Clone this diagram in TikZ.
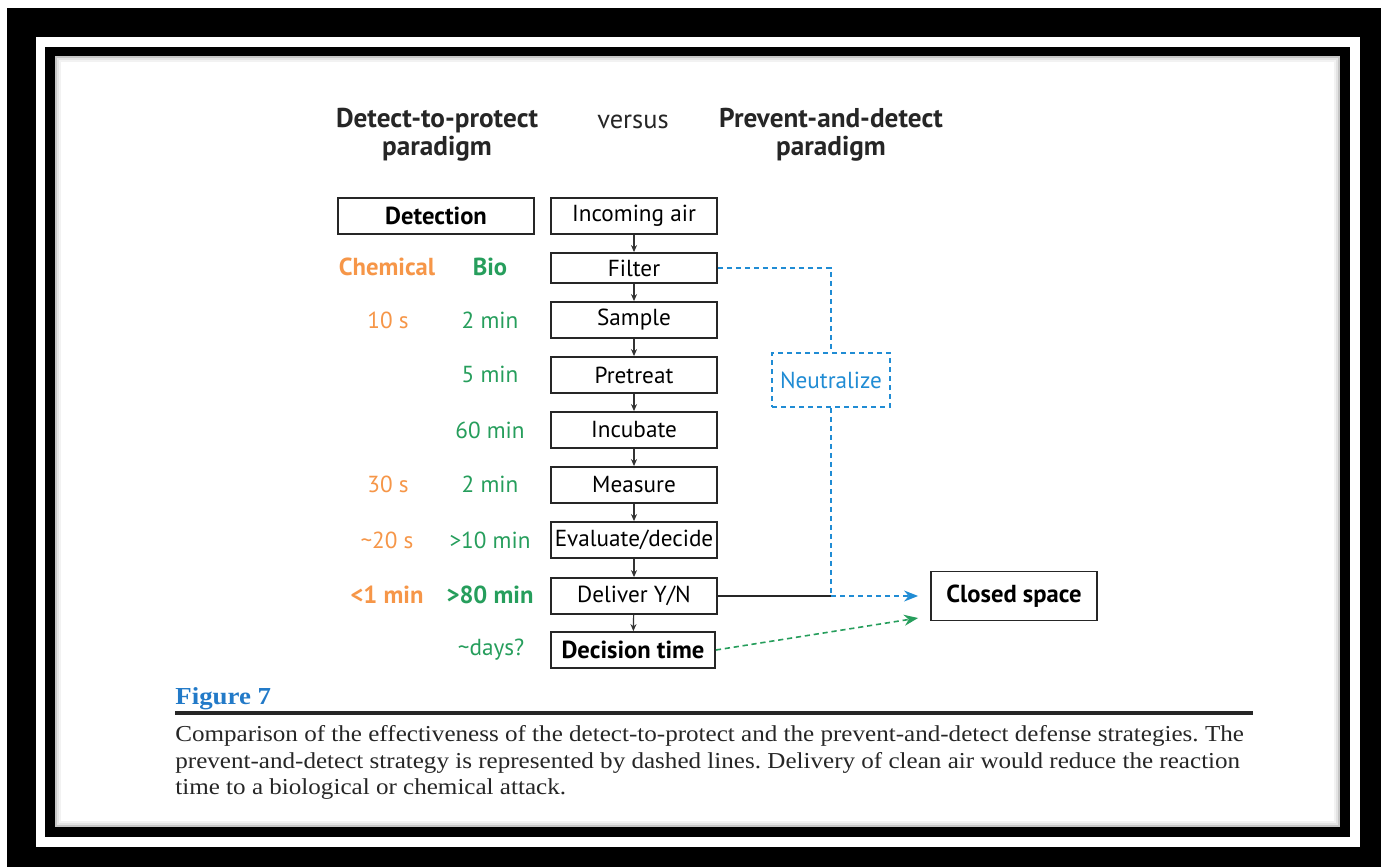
\documentclass[tikz,border=0pt]{standalone}
\usepackage{fontspec}
\setmainfont{Liberation Serif}
\newfontfamily\capfont[FakeStretch=1.1]{Liberation Serif}
\newfontfamily\diagfont{PT Sans}
\usetikzlibrary{arrows.meta, positioning, calc}

\definecolor{chemorange}{RGB}{246,150,72}
\definecolor{biogreen}{RGB}{38,158,92}
\definecolor{neublue}{RGB}{32,140,212}
\definecolor{figblue}{RGB}{34,122,200}

\begin{document}
\frenchspacing
\begin{tikzpicture}[
  x=0.5pt, y=-0.5pt,
  font=\diagfont\fontsize{11.6}{13}\selectfont,
  every node/.style={align=center},
  %% ─── styles ──────────────────────────────────────────────────
  stepbox/.style={
    draw=black!85, line width=0.9pt, fill=white,
    minimum width=83pt, minimum height=18pt, inner sep=1pt
  },
  boldtext/.style={font=\diagfont\bfseries\fontsize{12.3}{14}\selectfont},
  headtext/.style={font=\diagfont\bfseries\fontsize{13.6}{14}\selectfont, text=black!85},
  chemtext/.style={text=chemorange},
  biotext/.style={text=biogreen},
  steparrow/.style={-{Stealth[length=3.5pt, width=3pt]}, line width=0.6pt, black!80},
  neuline/.style={draw=neublue, line width=0.8pt, dash pattern=on 2.6pt off 1.9pt},
  neuarrow/.style={neuline, -{Stealth[length=7pt, width=5.5pt]}},
  bioarrow/.style={draw=biogreen, line width=0.8pt, dash pattern=on 2.6pt off 1.9pt, -{Stealth[length=7pt, width=5.5pt]}}
]

  %% ─── 0. frame ────────────────────────────────────────────────
  \useasboundingbox (0,0) rectangle (1381,867);
  \fill[white] (0,0) rectangle (1381,867);
  \fill[black] (7,8) rectangle (1381,867);
  \fill[white] (36,37) rectangle (1360,847);
  \fill[black] (45,47) rectangle (1350,837);
  \fill[white] (55,57) rectangle (1340,827);
  \draw[gray!45, line width=1pt] (56,57) rectangle (1339,826);
  \draw[gray!22, line width=1pt] (58,59) rectangle (1337,824);
  \draw[gray!10, line width=1pt] (60,61) rectangle (1335,822);

  %% ─── 1. headings ─────────────────────────────────────────────
  \node[headtext] (LeftHead) at (437,135) {Detect-to-protect\\paradigm};
  \node[text=black!85, font=\diagfont\fontsize{13.2}{14}\selectfont] (Versus) at (633,122) {versus};
  \node[headtext] (RightHead) at (831,135) {Prevent-and-detect\\paradigm};

  %% ─── 2. prevent-and-detect column (X=634) ───────────────────
  \node[stepbox] (Incoming) at (634,216) {Incoming air};
  \node[stepbox, minimum height=15pt] (Filter) at (634,268) {Filter};
  \node[stepbox] (Sample) at (634,320) {Sample};
  \node[stepbox] (Pretreat) at (634,375) {Pretreat};
  \node[stepbox] (Incubate) at (634,430) {Incubate};
  \node[stepbox] (Measure) at (634,485) {Measure};
  \node[stepbox, inner sep=0pt] (Evaluate) at (634,540) {Evaluate/decide};
  \node[stepbox] (Deliver) at (634,596) {Deliver Y/N};
  \node[stepbox, boldtext, minimum width=82pt] (Decision) at (633,650) {Decision time};

  \draw[steparrow] (Incoming) -- (Filter);
  \draw[steparrow] (Filter) -- (Sample);
  \draw[steparrow] (Sample) -- (Pretreat);
  \draw[steparrow] (Pretreat) -- (Incubate);
  \draw[steparrow] (Incubate) -- (Measure);
  \draw[steparrow] (Measure) -- (Evaluate);
  \draw[steparrow] (Evaluate) -- (Deliver);
  \draw[steparrow] (Deliver) -- (Decision);

  %% ─── 3. detect-to-protect timings ────────────────────────────
  \node[stepbox, boldtext, minimum width=98pt] (Detection) at (436,216) {Detection};

  \node[chemtext, boldtext] (ChemHead) at (387,267) {Chemical};
  \node[biotext, boldtext] (BioHead) at (490,267) {Bio};

  \node[chemtext] (ChemSample) at (388,320) {10 s};
  \node[biotext] (BioSample) at (490,320) {2 min};
  \node[biotext] (BioPretreat) at (490,374) {5 min};
  \node[biotext] (BioIncubate) at (490,430) {60 min};
  \node[chemtext] (ChemMeasure) at (388,484) {30 s};
  \node[biotext] (BioMeasure) at (490,484) {2 min};
  \node[chemtext] (ChemEvaluate) at (387,540) {\char"007E 20 s};
  \node[biotext] (BioEvaluate) at (490,540) {>10 min};
  \node[chemtext, boldtext] (ChemDeliver) at (387,595) {<1 min};
  \node[biotext, boldtext] (BioDeliver) at (490,595) {>80 min};
  \node[biotext] (BioDecision) at (491,650) {\char"007E days?};

  %% ─── 4. neutralize path & closed space ───────────────────────
  \node[stepbox, neuline, text=neublue, minimum width=59pt, minimum height=27pt] (Neutralize) at (831,380) {Neutralize};
  \node[stepbox, boldtext, minimum height=24.5pt] (Closed) at (1014,596) {Closed space};
  \coordinate (Join) at (831,596);

  \draw[neuline] (Filter.east) -| (Neutralize.north);
  \draw[neuline] (Neutralize.south) -- (Join);
  \draw[line width=0.8pt, black!85] (Deliver.east) -- (Join);
  \draw[neuarrow] (Join) -- ([xshift=-6pt]Closed.west);
  \draw[bioarrow] (Decision.east) -- ([shift={(-12,22)}]Closed.west);

  %% ─── 5. caption ──────────────────────────────────────────────
  \node[anchor=base west, inner sep=0pt, text=figblue, font=\capfont\bfseries\fontsize{12.2}{13}\selectfont] (FigTitle) at (175,704) {Figure 7};
  \draw[black!85, line width=1.6pt] (175,713) -- (1253,713);
  \node[anchor=north west, align=left, inner sep=0pt, text=black!85, font=\capfont\fontsize{11.4}{13.3}\selectfont] (Caption) at (175,725)
    {Comparison of the effectiveness of the detect-to-protect and the prevent-and-detect defense strategies. The\\
     prevent-and-detect strategy is represented by dashed lines. Delivery of clean air would reduce the reaction\\
     time to a biological or chemical attack.};

\end{tikzpicture}
\end{document}
